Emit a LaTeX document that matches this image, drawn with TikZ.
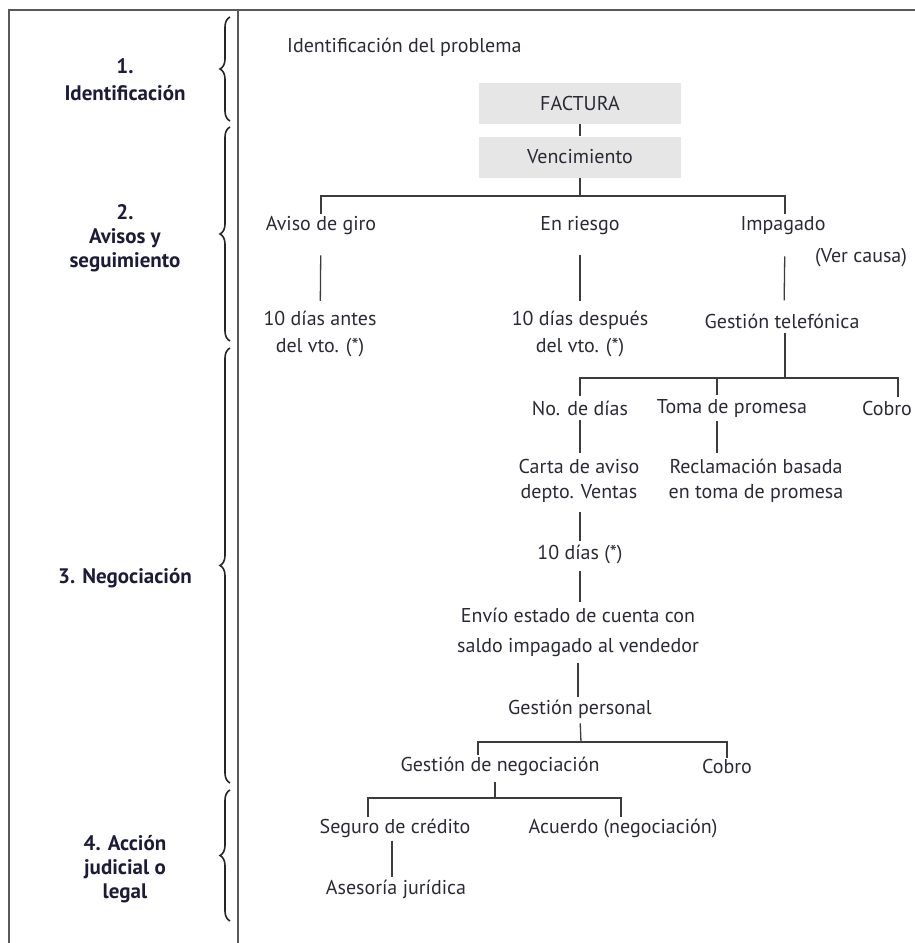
\documentclass[tikz,border=0pt]{standalone}
\usepackage{fontspec}
\setmainfont{PT Sans}
\usetikzlibrary{decorations.pathreplacing}
\definecolor{txt}{HTML}{2A2A36}
\definecolor{lbl}{HTML}{1C1C38}
\definecolor{boxfill}{HTML}{E6E6E6}
\definecolor{ln}{HTML}{3C3C3C}
\begin{document}
\begin{tikzpicture}[x=1pt,y=-1pt,
  every node/.style={text=txt, font=\fontsize{20}{26}\selectfont, inner sep=0pt, align=center},
  lab/.style={text=lbl, font=\fontsize{21}{24}\selectfont\bfseries},
  conn/.style={draw=ln, line width=1.3pt},
  framel/.style={draw=black!65, line width=1.4pt},
  gbox/.style={fill=boxfill, minimum width=202pt, minimum height=41pt},
  bracestyle/.style={draw=black!85, line width=1.6pt, decorate, decoration={brace, amplitude=10pt}}
]
\useasboundingbox (0,0) rectangle (915,943);
% frame
\draw[framel] (9,943) -- (9,10) -- (915,10);
\draw[framel] (238,10) -- (238,943);
% braces
\draw[bracestyle] (230,121) -- (230,17);
\draw[bracestyle] (230,341) -- (230,127);
\draw[bracestyle] (230,783) -- (230,348);
\draw[bracestyle] (230,921) -- (230,790);
% stage labels
\node[lab, font=\fontsize{21}{27}\selectfont\bfseries] (s1) at (125,80) {1.\\Identificación};
\node[lab] (s2) at (125,238) {2.\\Avisos y\\seguimiento};
\node[lab] (s3) at (125,578) {3. Negociación};
\node[lab] (s4) at (125,869) {4. Acción\\judicial o\\legal};
% diagram
\node[anchor=west] (idp) at (287,47) {Identificación del problema};
\node[gbox] (fac) at (580,103) {FACTURA};
\node[gbox] (ven) at (580,157) {Vencimiento};
\draw[conn] (fac) -- (ven);
\node (aviso) at (321,226) {Aviso de giro};
\node (riesgo) at (580,226) {En riesgo};
\node (imp) at (783,226) {Impagado};
\node (ver) at (861,258) {(Ver causa)};
\coordinate (b1) at (580,196);
\draw[conn] (ven.south) -- (b1);
\draw[conn, shorten <=3pt, shorten >=3pt] (aviso.north) -- (aviso.north |- b1) -- (b1) -- ([xshift=2pt]imp.north |- b1) -- ([xshift=2pt]imp.north);
\node[font=\fontsize{20}{27}\selectfont] (d1) at (320,334) {10 días antes\\del vto. (*)};
\node[font=\fontsize{20}{27}\selectfont] (d2) at (580,334) {10 días después\\del vto. (*)};
\node (gtel) at (782,321) {Gestión telefónica};
\draw[conn, shorten <=20pt, shorten >=10pt] (aviso) -- (d1);
\draw[conn, shorten <=20pt, shorten >=10pt] (riesgo) -- (d2);
\draw[conn, shorten <=21pt, shorten >=13pt] ([xshift=2pt]imp.south) -- ([xshift=2pt]gtel.north);
% level 3
\node (nod) at (580,408) {No. de días};
\node (toma) at (732,408) {Toma de promesa};
\node (cob1) at (887,408) {Cobro};
\coordinate (b2) at (785,378);
\coordinate (tomaT) at ([xshift=-15pt]toma.north);
\coordinate (tomaB) at ([xshift=-15pt]toma.south);
\coordinate (cobT) at ([xshift=11pt]cob1.north);
\draw[conn, shorten <=4pt] ([xshift=3pt]gtel.south) -- (b2);
\draw[conn, shorten <=4pt, shorten >=4pt] (nod.north) -- (nod.north |- b2) -- (cobT |- b2) -- (cobT);
\draw[conn, shorten >=4pt] (tomaT |- b2) -- (tomaT);
\node[font=\fontsize{20}{25}\selectfont] (carta) at (579,481) {Carta de aviso\\depto. Ventas};
\node[font=\fontsize{20}{25}\selectfont] (recl) at (756,481) {Reclamación basada\\en toma de promesa};
\draw[conn, shorten <=4pt, shorten >=6pt] (nod.south) -- (nod.south |- carta.north);
\draw[conn, shorten <=4pt, shorten >=6pt] (tomaB) -- (tomaB |- recl.north);
\node (dias) at (580,554) {10 días (*)};
\draw[conn, shorten <=9pt, shorten >=3pt] ([xshift=1pt]carta.south) -- ([xshift=1pt]carta.south |- dias.north);
\node[font=\fontsize{20}{30}\selectfont] (envio) at (578,632) {Envío estado de cuenta con\\saldo impagado al vendedor};
\draw[conn, shorten <=7pt, shorten >=5pt] (dias.south) -- (dias.south |- envio.north);
\node (gper) at (580,709) {Gestión personal};
\draw[conn, shorten <=6pt, shorten >=3pt] (envio.south) -- (envio.south |- gper.north);
% gestion personal
\node (gneg) at (500,766) {Gestión de negociación};
\node (cob2) at (727,766) {Cobro};
\coordinate (b3) at (581,742);
\coordinate (gnegT) at ([xshift=-22pt]gneg.north);
\draw[conn, shorten <=5pt] (gper.south) -- (b3);
\draw[conn, shorten <=1pt, shorten >=1pt] (gnegT) -- (gnegT |- b3) -- (cob2.north |- b3) -- (cob2.north);
% gestion negociacion
\node (seg) at (395,828) {Seguro de crédito};
\node (acu) at (623,828) {Acuerdo (negociación)};
\coordinate (b4) at (495,798);
\coordinate (segT) at ([xshift=-27pt]seg.north);
\coordinate (acuT) at ([xshift=-2pt]acu.north);
\draw[conn, shorten <=6pt] ([xshift=-5pt]gneg.south) -- (b4);
\draw[conn, shorten <=1pt, shorten >=1pt] (segT) -- (segT |- b4) -- (acuT |- b4) -- (acuT);
\node (ase) at (396,889) {Asesoría jurídica};
\draw[conn, shorten <=3pt, shorten >=2pt] ([xshift=-3pt]seg.south) -- ([xshift=-3pt]seg.south |- ase.north);
\end{tikzpicture}
\end{document}
